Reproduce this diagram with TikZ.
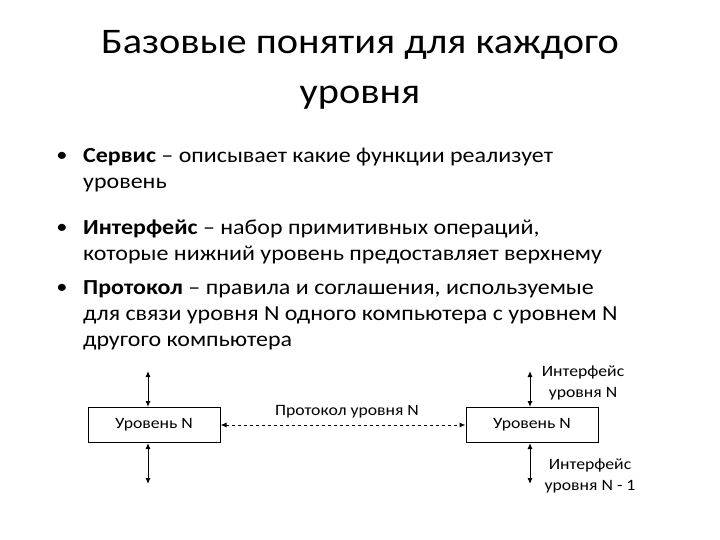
\documentclass[tikz,border=0pt]{standalone}
\usepackage{fontspec}
\setmainfont[FakeStretch=1.12]{Carlito}
\usetikzlibrary{arrows.meta}
\begin{document}
\begin{tikzpicture}[x=1pt,y=-1pt,
  title/.style={font=\fontsize{36}{50}\selectfont, align=center},
  txt/.style={font=\fontsize{21.4}{26}\selectfont, anchor=north west, align=left, inner sep=0},
  bul/.style={font=\fontsize{20}{24}\selectfont, inner sep=0},
  lvl/.style={draw, line width=1pt, minimum width=132pt, minimum height=35pt, font=\fontsize{15.8}{18}\selectfont},
  lab/.style={font=\fontsize{15.8}{21}\selectfont, align=center},
  arr/.style={line width=1pt, {Latex[length=6pt,width=5pt]}-{Latex[length=6pt,width=5pt]}}]
\useasboundingbox (0,0) rectangle (720,540);
\node[title] (t) at (360,70) {Базовые понятия для каждого\\уровня};
\node[bul] (b1) at (62,157) {•};
\node[bul] (b2) at (62,229) {•};
\node[bul] (b3) at (62,289) {•};
\node[txt] (x1) at (83,148) {\textbf{Сервис} – описывает какие функции реализует\\уровень};
\node[txt] (x2) at (83,220) {\textbf{Интерфейс} – набор примитивных операций,\\которые нижний уровень предоставляет верхнему};
\node[txt] (x3) at (83,280) {\textbf{Протокол} – правила и соглашения, используемые\\для связи уровня N одного компьютера с уровнем N\\другого компьютера};
\node[lvl] (l) at (154,425) {Уровень N};
\node[lvl] (r) at (532,425) {Уровень N};
\coordinate (lt) at (148,371); \coordinate (lb) at (148,484);
\coordinate (rt) at (530,371); \coordinate (rb) at (530,484);
\draw[arr] (lt) -- (l.north -| lt);
\draw[arr] (l.south -| lb) -- (lb);
\draw[arr] (rt) -- (r.north -| rt);
\draw[arr] (r.south -| rb) -- (rb);
\draw[line width=1pt, dashed, {Latex[length=6pt,width=5pt]}-{Latex[length=6pt,width=5pt]}] (l.east) -- (r.west);
\node[lab] (p) at (347,412) {Протокол уровня N};
\node[lab] (i1) at (583,383) {Интерфейс\\уровня N};
\node[lab] (i2) at (590,476) {Интерфейс\\уровня N - 1};
\end{tikzpicture}
\end{document}
